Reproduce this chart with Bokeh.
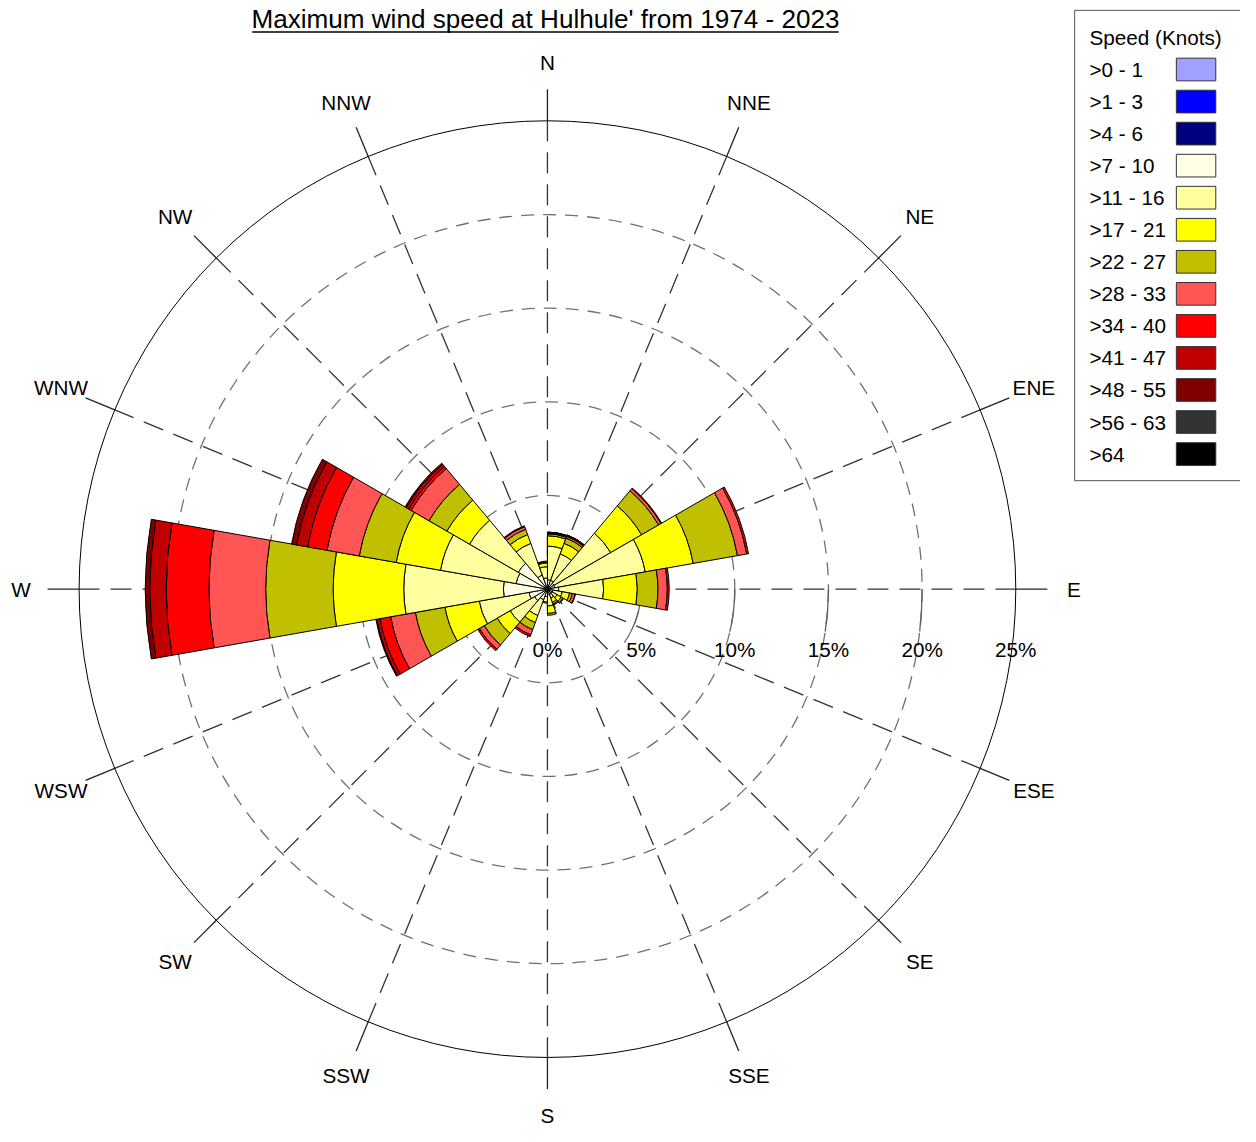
import math
from bokeh.plotting import figure
from bokeh.models import ColumnDataSource
from bokeh.core.properties import value
from bokeh.embed import file_html
from bokeh.resources import INLINE

# ---------------- data ----------------
sectors = [10, 30, 50, 70, 90, 110, 130, 150, 170, 190, 210, 230, 250, 270, 290, 310, 330, 350]
speed_labels = [">0 - 1", ">1 - 3", ">4 - 6", ">7 - 10", ">11 - 16", ">17 - 21", ">22 - 27",
                ">28 - 33", ">34 - 40", ">41 - 47", ">48 - 55", ">56 - 63", ">64"]
speed_colors = ["#A0A0FF", "#0000FF", "#000080", "#FFFFE6", "#FFFFA0", "#FFFF00", "#C0C000",
                "#FF5555", "#FF0000", "#C00000", "#800000", "#333333", "#000000"]

# frequency (%) of each speed class per sector (same order as sectors)
f_0_1   = [0] * 18
f_1_3   = [0] * 18
f_4_6   = [0] * 18
f_7_10  = [0.5, 0.5, 0.4, 0.4, 0.6, 0.3, 0.3, 0.3, 0.3, 0.4, 0.6, 0.8, 1.0, 2.35, 1.7, 1.8, 0.8, 0.6]
f_11_16 = [1.8, 1.5, 3.5, 4.9, 2.4, 0.5, 0.3, 0.2, 0.6, 0.3, 0.9, 1.5, 2.7, 5.32, 4.1, 3.0, 1.8, 0.6]
f_17_21 = [0.55, 0.6, 1.9, 2.6, 1.8, 0.4, 0.25, 0.25, 0.4, 0.05, 0.4, 0.8, 1.86, 3.77, 2.4, 1.4, 0.5, 0.2]
f_22_27 = [0.1, 0.3, 1.05, 2.4, 1.1, 0.15, 0.1, 0.1, 0.1, 0, 0.4, 0.8, 1.6, 3.6, 2.0, 1.1, 0.3, 0.05]
f_28_33 = [0.05, 0.1, 0.15, 0.5, 0.5, 0.15, 0.05, 0.05, 0, 0, 0.3, 0.3, 1.34, 3.03, 1.75, 1.1, 0.15, 0.05]
f_34_40 = [0.02, 0.05, 0.04, 0.1, 0.1, 0.02, 0, 0, 0, 0, 0.1, 0.1, 0.58, 2.28, 1.05, 0.15, 0.05, 0]
f_41_47 = [0.02, 0.02, 0, 0, 0, 0, 0, 0, 0, 0, 0, 0, 0.17, 0.88, 0.6, 0.15, 0, 0]
f_48_55 = [0.01, 0.01, 0, 0, 0, 0, 0, 0, 0, 0, 0, 0, 0.05, 0.24, 0.27, 0.08, 0, 0]
f_56_63 = [0] * 18
f_64    = [0] * 18

classes = [f_0_1, f_1_3, f_4_6, f_7_10, f_11_16, f_17_21, f_22_27, f_28_33,
           f_34_40, f_41_47, f_48_55, f_56_63, f_64]

ring_levels = [5, 10, 15, 20, 25]
ring_labels = ["5%", "10%", "15%", "20%", "25%"]
compass_labels = ["N", "NNE", "NE", "ENE", "E", "ESE", "SE", "SSE",
                  "S", "SSW", "SW", "WSW", "W", "WNW", "NW", "NNW"]
title_text = "Maximum wind speed at Hulhule' from 1974 - 2023"
legend_title = "Speed (Knots)"

# ---------------- layout ----------------
W, H = 1240, 1126
SX, SY = W / 1256.0, H / 1142.0     # reference-pixel -> figure-pixel
S = SY
PX = 19.0 * S                       # figure pixels per 1 %
cx, cy = 554 * SX, 597 * SY         # centre in figure pixels (from top-left)

p = figure(width=W, height=H, output_backend="svg", toolbar_location=None,
           x_range=(-cx / PX, (W - cx) / PX), y_range=(-(H - cy) / PX, cy / PX),
           min_border=0, outline_line_color=None)
p.axis.visible = False
p.grid.visible = False
p.background_fill_color = "white"

def dx(px):  # reference page x -> data
    return (px * SX - cx) / PX

def dy(py):  # reference page y -> data
    return (cy - py * SY) / PX

FONT = value("Liberation Sans")
FS = "%.1fpx" % (21 * S)
RMAX = ring_levels[-1]
U = 1 / 19.0  # one reference pixel in % units

# spokes and outer ticks
xs0, ys0, xs1, ys1 = [], [], [], []
tx0, ty0, tx1, ty1 = [], [], [], []
lx, ly = [], []
for i, lab in enumerate(compass_labels):
    th = math.radians(i * 22.5)
    s, c = math.sin(th), math.cos(th)
    xs0.append(0); ys0.append(0); xs1.append(RMAX * s); ys1.append(RMAX * c)
    tx0.append(RMAX * s); ty0.append(RMAX * c)
    tx1.append((RMAX + 32 * U) * s); ty1.append((RMAX + 32 * U) * c)
    lx.append(534 * U * s); ly.append(534 * U * c)
p.segment(xs0, ys0, xs1, ys1, line_color="#333333", line_width=1.3, line_dash="21 11")
p.segment(tx0, ty0, tx1, ty1, line_color="#222222", line_width=1.3)

# rings
inner_rings = ring_levels[:-1]
p.circle([0] * len(inner_rings), [0] * len(inner_rings), radius=inner_rings, fill_color=None,
         line_color="#707070", line_width=1.3, line_dash="13 9")
# solid piece of each ring just below the east axis (as in reference)
p.arc([0] * len(inner_rings), [0] * len(inner_rings), radius=inner_rings,
      start_angle=[-math.asin(43 * U / r) for r in inner_rings], end_angle=[0] * len(inner_rings),
      line_color="#606060", line_width=1.3)
p.circle([0], [0], radius=[RMAX], fill_color=None, line_color="#000000", line_width=1)

# wedges
rows = dict(inner=[], outer=[], start=[], end=[], color=[])
for j, sec in enumerate(sectors):
    cum = 0.0
    for k, cl in enumerate(classes):
        v = cl[j]
        if v <= 0:
            continue
        rows["inner"].append(cum)
        cum += v
        rows["outer"].append(cum)
        rows["start"].append(math.radians(90 - sec - 10))
        rows["end"].append(math.radians(90 - sec + 10))
        rows["color"].append(speed_colors[k])
src = ColumnDataSource(rows)
p.annular_wedge(x=0, y=0, inner_radius="inner", outer_radius="outer",
                start_angle="start", end_angle="end", fill_color="color",
                line_color="black", line_width=1, source=src)

# compass labels
p.text(lx, ly, text=compass_labels, text_font=FONT, text_font_size=FS,
       text_align="center", text_baseline="middle", text_color="black")

# percent labels
p.text([0] + ring_levels, [dy(658)] * 6, text=["0%"] + ring_labels, text_font=FONT,
       text_font_size=FS, text_align="center", text_baseline="middle", text_color="black")

# title (underlined)
p.text([dx(552)], [dy(19)], text=[title_text], text_font=FONT,
       text_font_size="%.1fpx" % (26.5 * S),
       text_align="center", text_baseline="middle", text_color="black")
p.segment([dx(255)], [dy(32)], [dx(849)], [dy(32)], line_color="black", line_width=1.5)

# legend
p.quad(left=[dx(1088)], right=[dx(1275)], top=[dy(10)], bottom=[dy(487)],
       fill_color="white", line_color="#555555", line_width=1)
p.text([dx(1103)], [dy(38)], text=[legend_title], text_font=FONT, text_font_size=FS,
       text_align="left", text_baseline="middle", text_color="black")
ly_leg = [dy(70 + 32.5 * i) for i in range(len(speed_labels))]
p.text([dx(1103)] * len(speed_labels), ly_leg, text=speed_labels, text_font=FONT,
       text_font_size=FS, text_align="left", text_baseline="middle", text_color="black")
p.rect([dx(1211)] * len(speed_labels), ly_leg, width=40 * U, height=23 * U,
       fill_color=speed_colors, line_color="#333333", line_width=1)

open("out.html", "w").write(file_html(p, INLINE))
